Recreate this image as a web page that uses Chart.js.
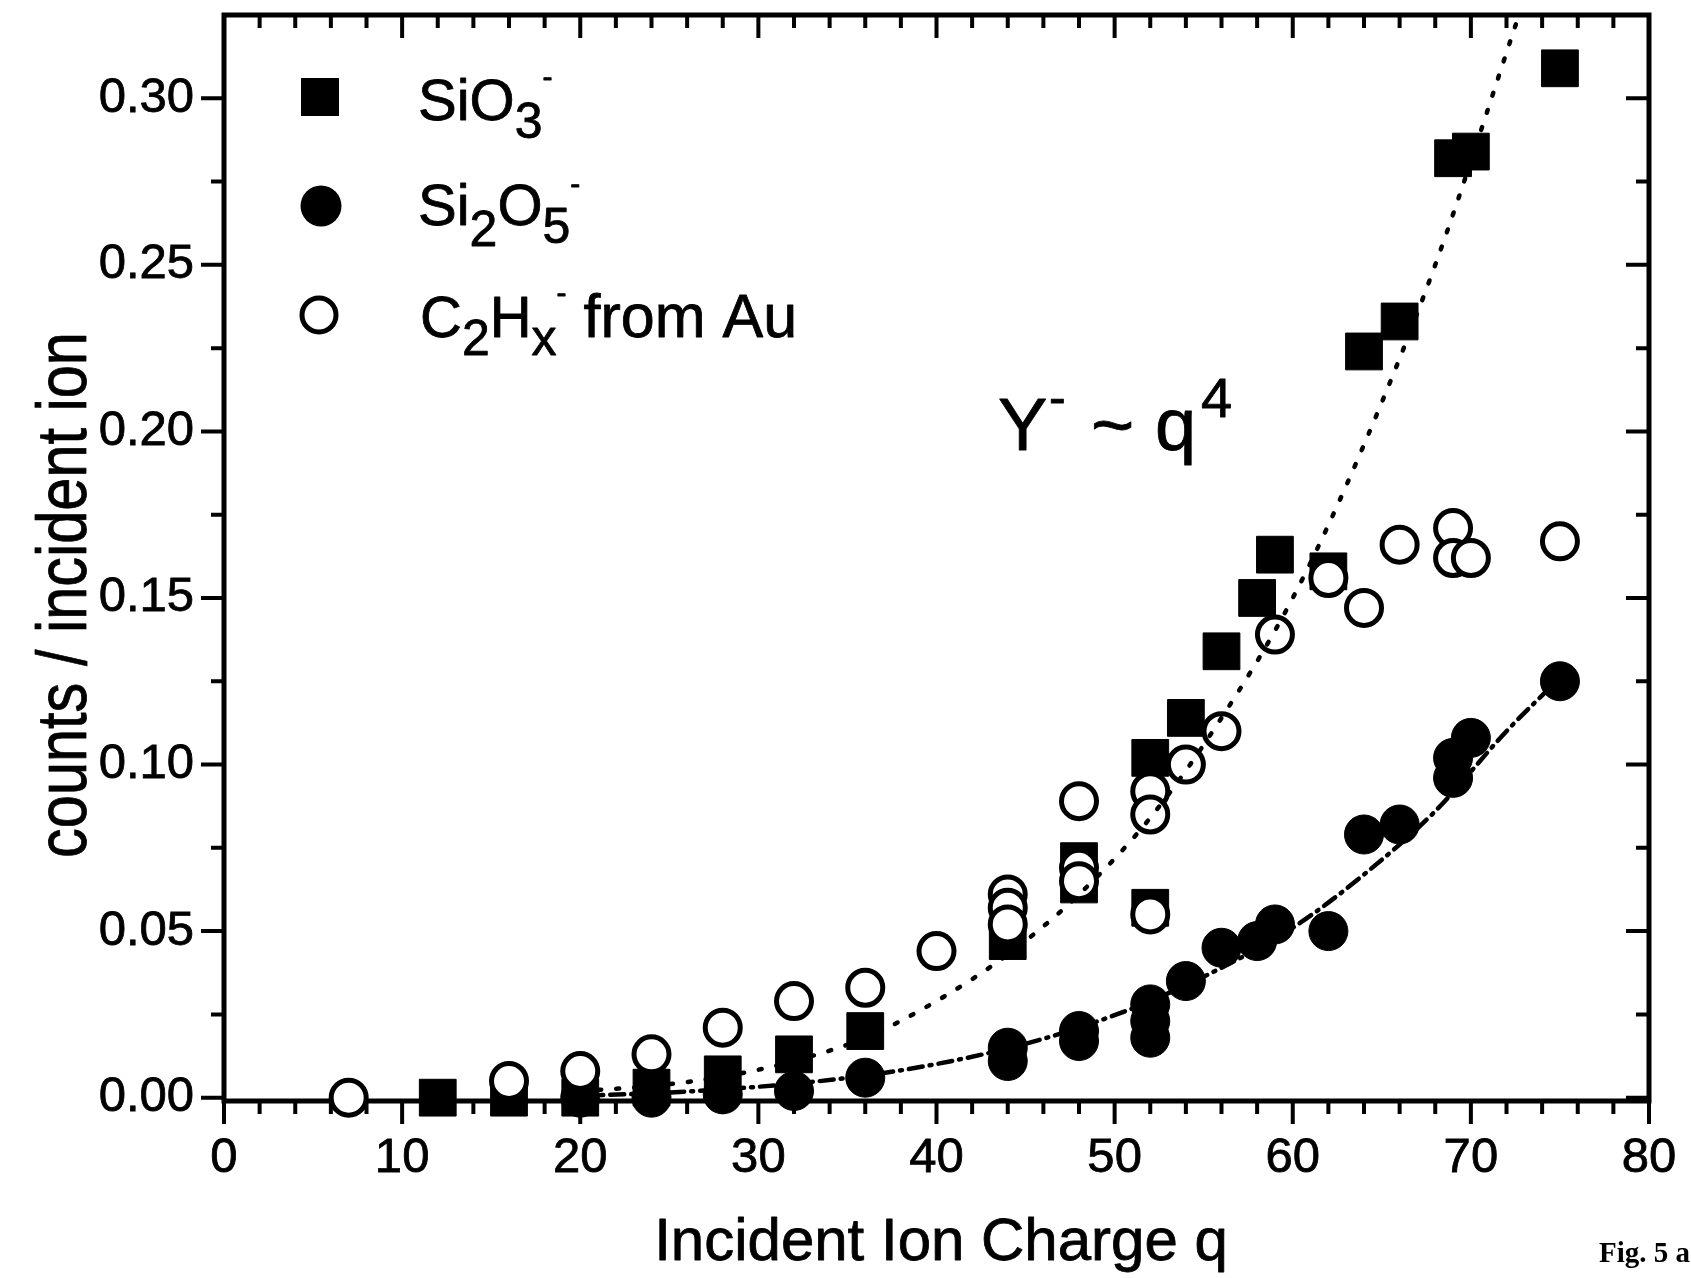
<!DOCTYPE html>
<html>
<head>
<meta charset="utf-8">
<title>Negative ion yield vs incident ion charge</title>
<script src="https://cdn.jsdelivr.net/npm/chart.js@4.4.0/dist/chart.umd.min.js"></script>
<style>
  html, body { margin: 0; padding: 0; background: #fff; }
  canvas { display: block; }
</style>
</head>
<body>
<canvas id="yieldChart" width="1691" height="1278"></canvas>
<script>
// SiO3- yield (counts per incident ion) vs incident charge q
const sio3Charge = [12, 16, 20, 24, 28, 32, 36, 44, 48, 48, 52, 52, 54, 56, 58, 59, 62, 64, 66, 69, 70, 75];
const sio3Yield  = [0.000, 0.000, 0.000, 0.003, 0.007, 0.013, 0.020, 0.047, 0.071, 0.064, 0.102, 0.057, 0.114, 0.134, 0.150, 0.163, 0.158, 0.224, 0.233, 0.282, 0.284, 0.309];

// Si2O5- yield
const si2o5Charge = [20, 24, 28, 32, 36, 44, 44, 48, 48, 52, 52, 52, 54, 56, 58, 59, 62, 64, 66, 69, 69, 70, 75];
const si2o5Yield  = [0.000, 0.000, 0.001, 0.002, 0.006, 0.015, 0.011, 0.020, 0.017, 0.028, 0.023, 0.018, 0.035, 0.045, 0.047, 0.052, 0.050, 0.079, 0.082, 0.102, 0.096, 0.108, 0.125];

// C2Hx- yield from the Au target
const c2hxCharge = [7, 16, 20, 24, 28, 32, 36, 40, 44, 44, 44, 48, 48, 48, 52, 52, 52, 54, 56, 59, 62, 64, 66, 69, 69, 70, 75];
const c2hxYield  = [0.000, 0.005, 0.008, 0.013, 0.021, 0.029, 0.033, 0.044, 0.061, 0.057, 0.052, 0.089, 0.069, 0.065, 0.092, 0.085, 0.055, 0.100, 0.110, 0.139, 0.156, 0.147, 0.166, 0.171, 0.162, 0.162, 0.167];

// q^4 guide curves
const sio3FitCharge = [20, 24, 28, 32, 36, 40, 44, 48, 52, 56, 60, 64, 68, 72.7];
const sio3FitYield  = [0.002, 0.0035, 0.0063, 0.011, 0.018, 0.029, 0.043, 0.061, 0.084, 0.114, 0.150, 0.196, 0.250, 0.325];
const si2o5FitCharge = [20, 24, 28, 32, 36, 40, 44, 48, 52, 56, 60, 64, 68, 72, 75];
const si2o5FitYield  = [0.0006, 0.0013, 0.0025, 0.0042, 0.0066, 0.0101, 0.0148, 0.021, 0.029, 0.039, 0.051, 0.067, 0.086, 0.110, 0.126];

// Axis ticks
const xTickValues = [0, 10, 20, 30, 40, 50, 60, 70, 80];
const yTickValues = [0, 0.05, 0.10, 0.15, 0.20, 0.25, 0.30];

const FONT = "'Liberation Sans', Arial, Helvetica, sans-serif";
const INK = 0.8;   // slight stroke so the lettering is as heavy as the printed figure
const MAJOR_TICK = 23;
const MINOR_TICK = 13;

const toPoints = (xs, ys) => xs.map((x, i) => ({ x: x, y: ys[i] }));

// Boxed frame with ticks on all four sides (outward bottom/left, inward top/right)
const axisFrame = {
    id: 'axisFrame',
    beforeDatasetsDraw(chart) {
        const { ctx, chartArea: a } = chart;
        const xs = chart.scales.x, ys = chart.scales.y;
        ctx.save();
        ctx.strokeStyle = '#000';
        ctx.lineWidth = 5;
        ctx.strokeRect(a.left, a.top, a.right - a.left, a.bottom - a.top);

        ctx.lineWidth = 4;
        ctx.beginPath();
        for (let v = 0; v <= 80; v += 2) {
            const px = xs.getPixelForValue(v);
            const len = v % 10 === 0 ? MAJOR_TICK : MINOR_TICK;
            ctx.moveTo(px, a.bottom); ctx.lineTo(px, a.bottom + len);
            ctx.moveTo(px, a.top);    ctx.lineTo(px, a.top + len);
        }
        for (let k = 0; k <= 12; k++) {
            const py = ys.getPixelForValue(k * 0.025);
            const len = k % 2 === 0 ? MAJOR_TICK : MINOR_TICK;
            ctx.moveTo(a.left, py);  ctx.lineTo(a.left - len, py);
            ctx.moveTo(a.right, py); ctx.lineTo(a.right - len, py);
        }
        ctx.stroke();
        ctx.restore();
    }
};

function ink(ctx, text, x, y) {
    ctx.fillText(text, x, y);
    ctx.strokeText(text, x, y);
}

// Text with sub/superscripts, drawn as consecutive runs
function drawRuns(ctx, x, y, runs) {
    runs.forEach(r => {
        ctx.font = r.size + 'px ' + FONT;
        ink(ctx, r.text, x, y + (r.dy || 0));
        x += ctx.measureText(r.text).width;
    });
}

const labels = {
    id: 'labels',
    afterDraw(chart) {
        const ctx = chart.ctx;
        ctx.save();
        ctx.fillStyle = '#000';
        ctx.strokeStyle = '#000';
        ctx.textBaseline = 'alphabetic';
        ctx.textAlign = 'left';

        // legend markers
        ctx.fillRect(301, 78, 38, 38);
        ctx.beginPath();
        ctx.arc(321, 206, 20.5, 0, Math.PI * 2);
        ctx.fill();
        ctx.lineWidth = 5;
        ctx.beginPath();
        ctx.arc(319, 315, 17, 0, Math.PI * 2);
        ctx.stroke();

        ctx.lineWidth = INK;
        ctx.lineJoin = 'round';

        // legend text
        drawRuns(ctx, 418, 120, [
            { text: 'SiO', size: 58 },
            { text: '3', size: 50, dy: 18 },
            { text: '-', size: 30, dy: -33 }
        ]);
        drawRuns(ctx, 418, 225, [
            { text: 'Si', size: 58 },
            { text: '2', size: 50, dy: 21 },
            { text: 'O', size: 58 },
            { text: '5', size: 50, dy: 18 },
            { text: '-', size: 30, dy: -31 }
        ]);
        drawRuns(ctx, 420, 337, [
            { text: 'C', size: 58 },
            { text: '2', size: 50, dy: 18 },
            { text: 'H', size: 58 },
            { text: 'x', size: 50, dy: 18 },
            { text: '-', size: 30, dy: -34 },
            { text: ' from Au', size: 61 }
        ]);

        // power-law note
        ctx.font = '74px ' + FONT;
        ink(ctx, 'Y', 998, 450);
        ink(ctx, '~', 1091, 450);
        ink(ctx, 'q', 1155, 450);
        ctx.font = '50px ' + FONT;
        ink(ctx, '-', 1049, 414);
        ctx.font = '56px ' + FONT;
        ink(ctx, '4', 1201, 417);

        // axis titles
        ctx.font = '60px ' + FONT;
        ctx.textAlign = 'center';
        ink(ctx, 'Incident Ion Charge q', 941, 1260);
        ctx.save();
        ctx.translate(86, 595);
        ctx.rotate(-Math.PI / 2);
        ctx.scale(0.85, 1);
        ctx.font = '70px ' + FONT;
        ink(ctx, 'counts / incident ion', 0, 0);
        ctx.restore();

        // figure tag
        ctx.textAlign = 'left';
        ctx.font = "bold 29px 'Liberation Serif', 'Times New Roman', serif";
        ctx.fillText('Fig. 5 a', 1599, 1262);
        ctx.restore();
    }
};

new Chart(document.getElementById('yieldChart'), {
    type: 'scatter',
    data: {
        datasets: [
            {
                label: 'SiO3- q^4',
                data: toPoints(sio3FitCharge, sio3FitYield),
                showLine: true,
                borderColor: '#000',
                borderWidth: 4.5,
                borderDash: [3, 15],
                borderCapStyle: 'round',
                cubicInterpolationMode: 'monotone',
                pointRadius: 0,
                order: 0
            },
            {
                label: 'Si2O5- q^4',
                data: toPoints(si2o5FitCharge, si2o5FitYield),
                showLine: true,
                borderColor: '#000',
                borderWidth: 4.5,
                borderDash: [14, 7, 2, 7],
                borderCapStyle: 'round',
                cubicInterpolationMode: 'monotone',
                pointRadius: 0,
                order: 0
            },
            {
                label: 'C2Hx- from Au',
                data: toPoints(c2hxCharge, c2hxYield),
                pointStyle: 'circle',
                pointRadius: 17.5,
                pointBackgroundColor: '#fff',
                pointBorderColor: '#000',
                pointBorderWidth: 5,
                clip: false,
                order: 1
            },
            {
                label: 'Si2O5-',
                data: toPoints(si2o5Charge, si2o5Yield),
                pointStyle: 'circle',
                pointRadius: 19.5,
                pointBackgroundColor: '#000',
                pointBorderColor: '#000',
                pointBorderWidth: 1,
                clip: false,
                order: 2
            },
            {
                label: 'SiO3-',
                data: toPoints(sio3Charge, sio3Yield),
                pointStyle: 'rect',
                pointRadius: 26,
                pointBackgroundColor: '#000',
                pointBorderColor: '#000',
                pointBorderWidth: 1,
                clip: false,
                order: 3
            }
        ]
    },
    options: {
        responsive: false,
        animation: false,
        devicePixelRatio: 1,
        events: [],
        layout: {
            autoPadding: false,
            padding: { top: 15, right: 42, left: 0, bottom: 0 }
        },
        plugins: {
            legend: { display: false },
            tooltip: { enabled: false }
        },
        scales: {
            x: {
                type: 'linear',
                position: 'bottom',
                min: 0,
                max: 80,
                afterBuildTicks: s => { s.ticks = xTickValues.map(v => ({ value: v })); },
                afterFit: s => { s.height = 177; s.paddingLeft = 0; s.paddingRight = 0; },
                grid: { display: false, drawTicks: false },
                border: { display: false },
                ticks: {
                    color: '#000',
                    textStrokeColor: '#000',
                    textStrokeWidth: INK,
                    font: { family: FONT, size: 49 },
                    padding: 28,
                    maxRotation: 0,
                    autoSkip: false
                }
            },
            y: {
                type: 'linear',
                position: 'left',
                min: -0.001,
                max: 0.325,
                afterBuildTicks: s => { s.ticks = yTickValues.map(v => ({ value: v })); },
                afterFit: s => { s.width = 224; s.paddingTop = 0; s.paddingBottom = 0; },
                grid: { display: false, drawTicks: false },
                border: { display: false },
                ticks: {
                    color: '#000',
                    textStrokeColor: '#000',
                    textStrokeWidth: INK,
                    font: { family: FONT, size: 49 },
                    padding: 30,
                    autoSkip: false,
                    callback: v => v.toFixed(2)
                }
            }
        }
    },
    plugins: [axisFrame, labels]
});
</script>
</body>
</html>
